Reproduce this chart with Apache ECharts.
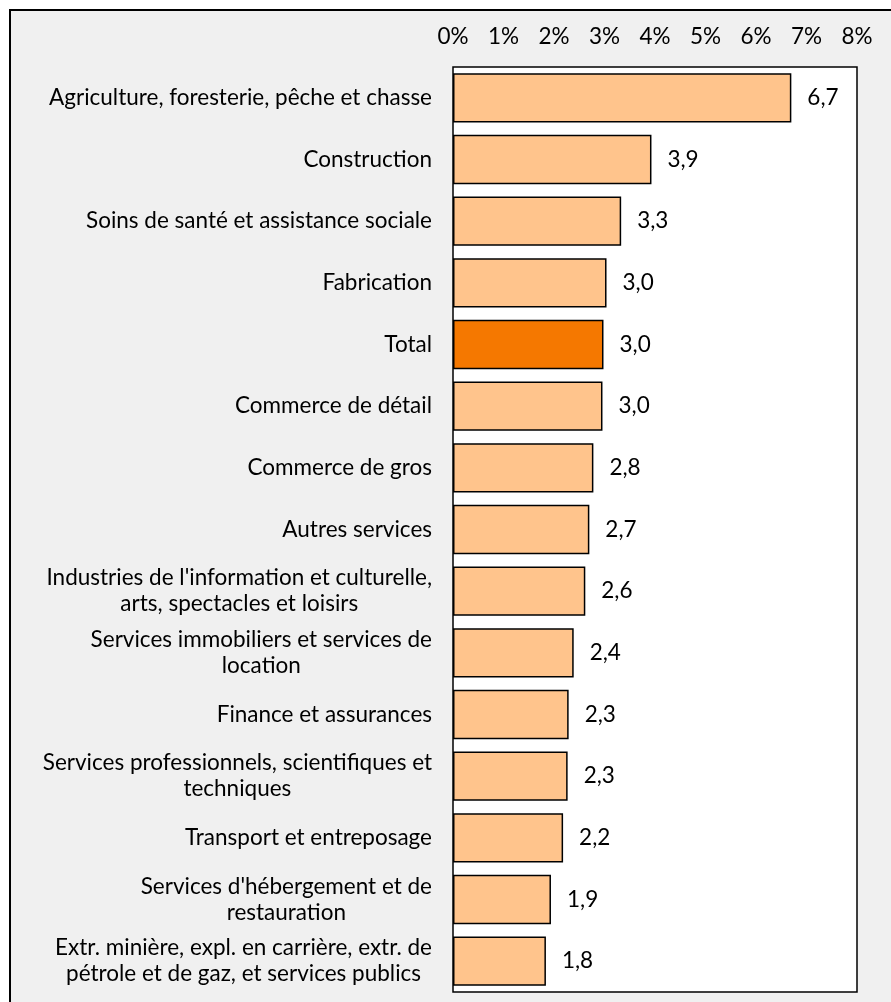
<!DOCTYPE html>
<html>
<head>
<meta charset="utf-8">
<script src="https://cdn.jsdelivr.net/npm/echarts@6/dist/echarts.min.js"></script>
<style>
  html, body { margin: 0; padding: 0; background: #ffffff; }
  #frame { position: absolute; left: 9px; top: 9px; width: 900px; height: 1010px; background: #f0f0f0; border-left: 2px solid #000; border-top: 2px solid #000; }
  #chart { position: absolute; left: 0; top: 0; width: 891px; height: 1002px; }
</style>
</head>
<body>
<div id="frame"></div>
<div id="chart"></div>
<script>
const categories = [
  "Agriculture, foresterie, pêche et chasse",
  "Construction",
  "Soins de santé et assistance sociale",
  "Fabrication",
  "Total",
  "Commerce de détail",
  "Commerce de gros",
  "Autres services",
  "Industries de l'information et culturelle,\narts, spectacles et loisirs",
  "Services immobiliers et services de\nlocation",
  "Finance et assurances",
  "Services professionnels, scientifiques et\ntechniques",
  "Transport et entreposage",
  "Services d'hébergement et de\nrestauration",
  "Extr. minière, expl. en carrière, extr. de\npétrole et de gaz, et services publics"
];
const values = [6.70, 3.93, 3.33, 3.04, 2.98, 2.96, 2.78, 2.70, 2.62, 2.39, 2.29, 2.27, 2.18, 1.94, 1.84];
const highlight = "Total";
const xTicks = [0, 1, 2, 3, 4, 5, 6, 7, 8];

const FONT = 'Lato';
const FS = 22.5;
const chart = echarts.init(document.getElementById('chart'), null, { renderer: 'canvas' });

const option = {
  backgroundColor: 'transparent',
  animation: false,
  grid: {
    left: 453, right: 34, top: 67, bottom: 10,
    show: true, backgroundColor: '#ffffff', borderColor: '#000000', borderWidth: 1.5
  },
  xAxis: {
    type: 'value', position: 'top',
    min: xTicks[0], max: xTicks[xTicks.length - 1], interval: 1,
    axisLine: { show: false }, axisTick: { show: false }, splitLine: { show: false },
    axisLabel: { formatter: '{value}%', color: '#000', fontFamily: FONT, fontSize: FS, margin: 19 }
  },
  yAxis: {
    type: 'category', inverse: true, data: categories,
    axisLine: { show: false }, axisTick: { show: false }, splitLine: { show: false },
    axisLabel: {
      color: '#000', fontFamily: FONT, fontSize: FS, margin: 21, lineHeight: 26,
      formatter: function (v) {
        const lines = v.split('\n');
        if (lines.length === 1) return v;
        return lines.map(l => '{c|' + l + '}').join('\n');
      },
      rich: { c: { align: 'center', color: '#000', fontFamily: FONT, fontSize: FS, lineHeight: 26 } }
    }
  },
  series: [{
    type: 'bar',
    barCategoryGap: '20%',
    data: values.map((v, i) => ({
      value: v,
      itemStyle: { color: categories[i] === highlight ? '#f57800' : '#ffc48c' }
    })),
    itemStyle: { borderColor: '#000', borderWidth: 1.5 },
    label: {
      show: true, position: 'right', distance: 16, color: '#000', fontFamily: FONT, fontSize: FS,
      formatter: p => p.value.toFixed(1).replace('.', ',')
    }
  }]
};
chart.setOption(option);
</script>
</body>
</html>
